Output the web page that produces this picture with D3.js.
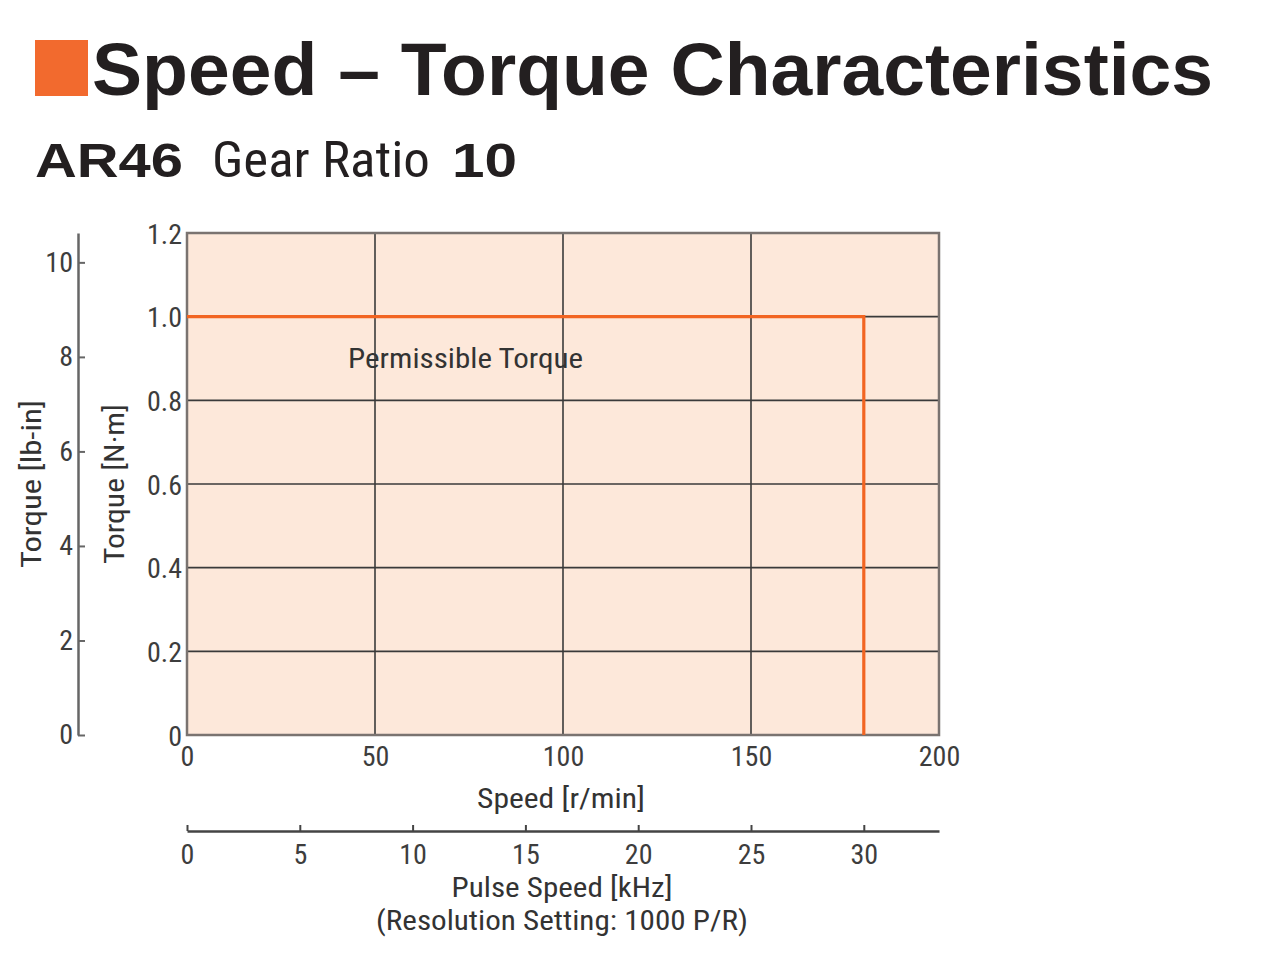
<!DOCTYPE html>
<html><head><meta charset="utf-8">
<script src="https://cdn.jsdelivr.net/npm/d3@7"></script>
<style>
body{margin:0;background:#fff;}
text{font-family:"Roboto Condensed","Liberation Sans Narrow","Liberation Sans",Arial,sans-serif;}
</style></head>
<body><svg id="c" width="1280" height="979"></svg>
<script>
const speedTicks = [0, 50, 100, 150, 200];
const torqueNmTicks = [0, 0.2, 0.4, 0.6, 0.8, 1.0, 1.2];
const torqueLbTicks = [0, 2, 4, 6, 8, 10];
const pulseTicks = [0, 5, 10, 15, 20, 25, 30];
const curveSpeed = [0, 180, 180];
const curveTorque = [1.0, 1.0, 0];
const NM_TO_LBIN = 8.851;
const PULSE_PER_RPM = 30 / 180; // kHz per r/min at 1000 P/R, gear 10

const svg = d3.select("#c");
const L = 187, R = 939, T = 233, B = 735;
const x = d3.scaleLinear().domain([0, 200]).range([L, R]);
const y = d3.scaleLinear().domain([0, 1.2]).range([B, T]);
const yLb = d3.scaleLinear().domain([0, 1.2 * NM_TO_LBIN]).range([B, T]);
const xP = d3.scaleLinear().domain([0, 200 * PULSE_PER_RPM]).range([L, R]);

function txt(xp, yp, s, size, len, opts = {}) {
  const t = svg.append("text").attr("x", xp).attr("y", yp).attr("font-size", size)
    .attr("fill", opts.fill || "#333").text(s);
  if (opts.anchor) t.attr("text-anchor", opts.anchor);
  if (opts.bold) t.attr("font-weight", "bold");
  if (opts.family) t.style("font-family", opts.family);
  if (opts.transform) t.attr("transform", opts.transform);
  if (len) t.attr("textLength", len).attr("lengthAdjust", "spacingAndGlyphs");
  return t;
}
const sans = "'Liberation Sans',Arial,sans-serif";

// Title
svg.append("rect").attr("x", 35).attr("y", 40).attr("width", 53).attr("height", 56).attr("fill", "#f26a2e");
txt(92, 95, "Speed – Torque Characteristics", 74, 1121, {bold: true, family: sans, fill: "#231f20"});
txt(35, 177, "AR46", 48, 148, {bold: true, family: sans, fill: "#231f20"});
txt(212, 177, "Gear Ratio", 50, 218, {fill: "#231f20"});
txt(452, 177, "10", 48, 65, {bold: true, family: sans, fill: "#231f20"});

// Plot background
svg.append("rect").attr("x", L).attr("y", T).attr("width", R - L).attr("height", B - T).attr("fill", "#fde8da");

// Grid
svg.append("g").selectAll("line").data(torqueNmTicks.filter(d => d > 0 && d < 1.2)).join("line")
  .attr("x1", L).attr("x2", R).attr("y1", d => y(d)).attr("y2", d => y(d))
  .attr("stroke", "#3a3a3a").attr("stroke-width", 1.6);
svg.append("g").selectAll("line").data(speedTicks.filter(d => d > 0 && d < 200)).join("line")
  .attr("y1", T).attr("y2", B).attr("x1", d => x(d)).attr("x2", d => x(d))
  .attr("stroke", "#3a3a3a").attr("stroke-width", 1.6);
// Frame
svg.append("rect").attr("x", L).attr("y", T).attr("width", R - L).attr("height", B - T)
  .attr("fill", "none").attr("stroke", "#7a7370").attr("stroke-width", 2.5);

// Curve
svg.append("path").datum(d3.range(curveSpeed.length))
  .attr("d", d3.line().x(i => x(curveSpeed[i])).y(i => y(curveTorque[i])))
  .attr("fill", "none").attr("stroke", "#f26522").attr("stroke-width", 3.2);

txt(348, 368, "Permissible Torque", 28, 235);

// N·m axis labels
const tickFont = 28, tickColor = "#3d3d3d";
const yAxis = d3.axisLeft(y).tickValues(torqueNmTicks).tickSize(0).tickPadding(5)
  .tickFormat(d => d === 0 ? "0" : d3.format(".1f")(d));
const gy = svg.append("g").attr("transform", `translate(${L},0)`).call(yAxis);
gy.select(".domain").remove();
gy.selectAll("text").attr("font-size", tickFont).attr("fill", tickColor).attr("dy", "0.36em")
  .style("font-family", "'Roboto Condensed',sans-serif");

// Speed axis labels
const xAxis = d3.axisBottom(x).tickValues(speedTicks).tickSize(0).tickPadding(11);
const gx = svg.append("g").attr("transform", `translate(0,${B})`).call(xAxis);
gx.select(".domain").remove();
gx.selectAll("text").attr("font-size", tickFont).attr("fill", tickColor)
  .style("font-family", "'Roboto Condensed',sans-serif");

// lb-in axis
const lbX = 78;
const gLb = svg.append("g").attr("transform", `translate(${lbX},0)`)
  .call(d3.axisRight(yLb).tickValues(torqueLbTicks).tickSize(7).tickSizeOuter(0).tickFormat(d3.format("d")));
gLb.select(".domain").attr("stroke", "#666").attr("stroke-width", 2.5);
gLb.selectAll(".tick line").attr("stroke", "#666").attr("stroke-width", 2);
gLb.selectAll("text").attr("x", -5).attr("text-anchor", "end").attr("font-size", tickFont).attr("fill", tickColor)
  .style("font-family", "'Roboto Condensed',sans-serif");

// Pulse axis
const pY = 831;
const gP = svg.append("g").attr("transform", `translate(0,${pY})`)
  .call(d3.axisTop(xP).tickValues(pulseTicks).tickSize(6).tickSizeOuter(0).tickFormat(d3.format("d")));
gP.select(".domain").attr("stroke", "#444").attr("stroke-width", 2.5);
gP.selectAll(".tick line").attr("stroke", "#444").attr("stroke-width", 2);
gP.selectAll("text").attr("y", 13).attr("dy", "0.71em").attr("font-size", tickFont).attr("fill", tickColor)
  .style("font-family", "'Roboto Condensed',sans-serif");

// Axis titles
const titleFont = 28;
txt(561, 808, "Speed [r/min]", titleFont, 168, {anchor: "middle"});
txt(562, 897, "Pulse Speed [kHz]", titleFont, 221, {anchor: "middle"});
txt(562, 930, "(Resolution Setting: 1000 P/R)", titleFont, 372, {anchor: "middle"});
txt(0, 0, "Torque [lb-in]", titleFont, 168, {anchor: "middle", transform: "translate(41,484) rotate(-90)"});
txt(0, 0, "Torque [N·m]", titleFont, 160, {anchor: "middle", transform: "translate(124,484) rotate(-90)"});
</script></body></html>
